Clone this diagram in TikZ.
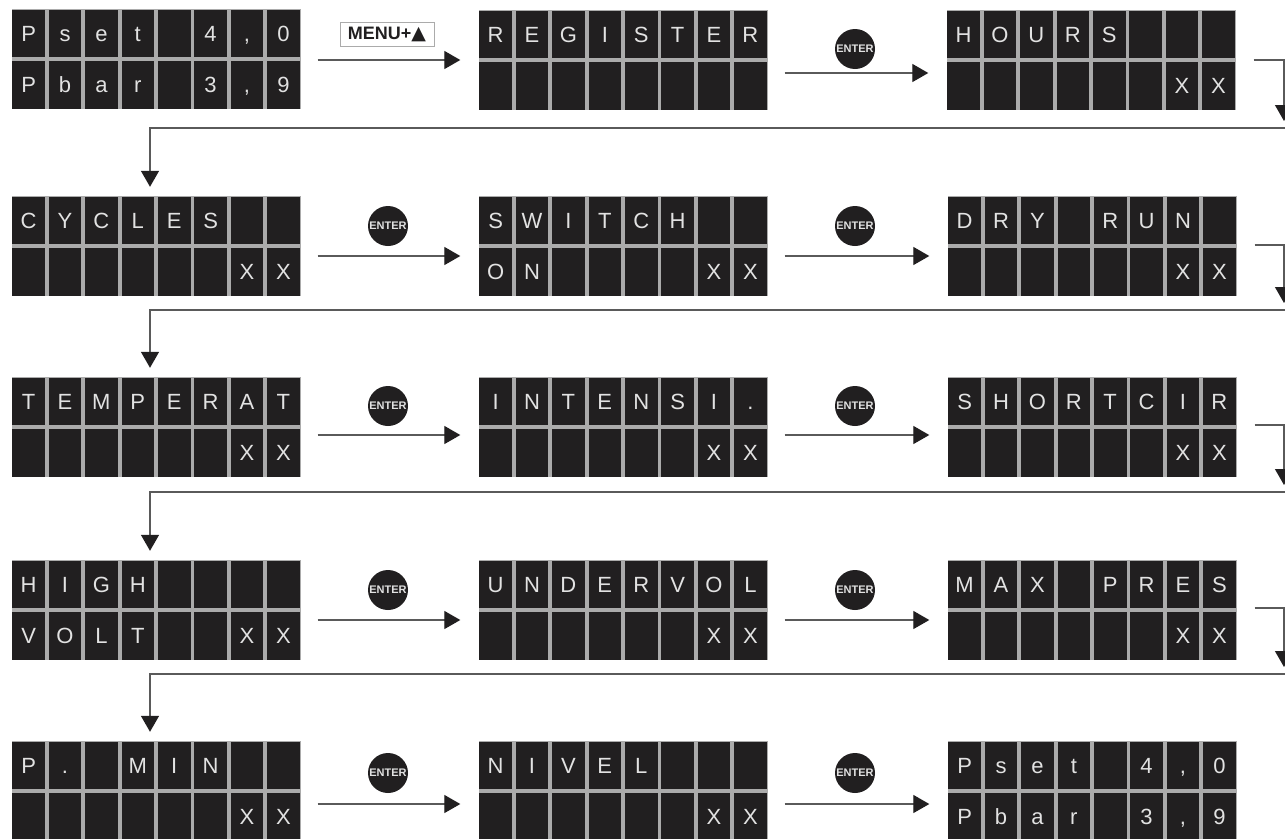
\documentclass[tikz,border=0pt]{standalone}
\usepackage{fontspec}
\setmainfont{Liberation Sans}
\newfontfamily\symfont{DejaVu Sans}
\usetikzlibrary{calc, arrows.meta}
\definecolor{cellFill}{HTML}{211F20}
\definecolor{cellEdge}{HTML}{ABABAB}
\definecolor{cellText}{HTML}{E2E2E2}
\definecolor{flowLine}{HTML}{5A5A5A}
\tikzset{
    panelbox/.style={fill=cellEdge, minimum width=289pt, minimum height=100pt, inner sep=0pt},
    cellbox/.style={fill=cellFill, minimum width=32.6pt, minimum height=47.5pt,
        inner sep=0pt, text=cellText, font=\fontsize{22}{22}\selectfont, text height=16pt, text depth=0pt},
    flow/.style={flowLine, line width=1.3pt},
    flowtip/.style={flow, -{Triangle[length=16pt,width=18pt,color=cellFill]}},
    enterkey/.style={circle, fill=cellFill, minimum size=40pt, inner sep=0pt, text=cellText,
        font=\fontsize{11}{11}\selectfont\bfseries},
    menukey/.style={draw=cellEdge, fill=white, minimum width=94pt, minimum height=24pt, inner sep=0pt,
        text=cellFill, font=\fontsize{18}{18}\selectfont\bfseries},
}
\newcommand{\lcdpanel}[5]{
    \node[panelbox] (#1) at (#2,#3) {};
    \foreach \ch [count=\i] in {#4}
        \node[cellbox] (#1-a\i) at ({#2+36.4*(\i-4.5)},{#3-25.75}) {\ch};
    \foreach \ch [count=\i] in {#5}
        \node[cellbox] (#1-b\i) at ({#2+36.4*(\i-4.5)},{#3+25.75}) {\ch};
}
\begin{document}
\begin{tikzpicture}[x=1pt, y=-1pt]
    \useasboundingbox (0,0) rectangle (1285,838);
    % first row
    \lcdpanel{psetA}{156}{59}{P,s,e,t,{},4,{,},0}{P,b,a,r,{},3,{,},9}
    \lcdpanel{register}{623}{60}{R,E,G,I,S,T,E,R}{{},{},{},{},{},{},{},{}}
    \lcdpanel{hours}{1091}{60}{H,O,U,R,S,{},{},{}}{{},{},{},{},{},{},X,X}
    % second row
    \lcdpanel{cycles}{156}{246}{C,Y,C,L,E,S,{},{}}{{},{},{},{},{},{},X,X}
    \lcdpanel{switch}{623}{246}{S,W,I,T,C,H,{},{}}{O,N,{},{},{},{},X,X}
    \lcdpanel{dryrun}{1092}{246}{D,R,Y,{},R,U,N,{}}{{},{},{},{},{},{},X,X}
    % third row
    \lcdpanel{temperat}{156}{427}{T,E,M,P,E,R,A,T}{{},{},{},{},{},{},X,X}
    \lcdpanel{intensi}{623}{427}{I,N,T,E,N,S,I,.}{{},{},{},{},{},{},X,X}
    \lcdpanel{shortcir}{1092}{427}{S,H,O,R,T,C,I,R}{{},{},{},{},{},{},X,X}
    % fourth row
    \lcdpanel{highvolt}{156}{610}{H,I,G,H,{},{},{},{}}{V,O,L,T,{},{},X,X}
    \lcdpanel{undervol}{623}{610}{U,N,D,E,R,V,O,L}{{},{},{},{},{},{},X,X}
    \lcdpanel{maxpres}{1092}{610}{M,A,X,{},P,R,E,S}{{},{},{},{},{},{},X,X}
    % last row
    \lcdpanel{pmin}{156}{791}{P,.,{},M,I,N,{},{}}{{},{},{},{},{},{},X,X}
    \lcdpanel{nivel}{623}{791}{N,I,V,E,L,{},{},{}}{{},{},{},{},{},{},X,X}
    \lcdpanel{psetB}{1092}{791}{P,s,e,t,{},4,{,},0}{P,b,a,r,{},3,{,},9}
    % arrows along the rows
    \foreach \from/\to/\dy in {psetA/register/1, register/hours/13, cycles/switch/10, switch/dryrun/10,
        temperat/intensi/8, intensi/shortcir/8, highvolt/undervol/10, undervol/maxpres/10,
        pmin/nivel/13, nivel/psetB/13}
        \draw[flowtip, shorten <=17pt, shorten >=18pt] ([yshift=-\dy pt]\from.east) coordinate (start) -- (start -| \to.west);
    % arrows from one row to the next
    \coordinate (turnA) at (1284,121);
    \coordinate (turnB) at (1284,303);
    \coordinate (turnC) at (1284,485);
    \coordinate (turnD) at (1284,667);
    \coordinate (wrapA) at (1285,128);
    \coordinate (wrapB) at (1285,310);
    \coordinate (wrapC) at (1285,492);
    \coordinate (wrapD) at (1285,674);
    \draw[flowtip, shorten <=18pt] (hours.east) -| (turnA);
    \draw[flowtip, shorten <=18pt] ([yshift=1pt]dryrun.east) -| (turnB);
    \draw[flowtip, shorten <=18pt] ([yshift=2pt]shortcir.east) -| (turnC);
    \draw[flowtip, shorten <=18pt] ([yshift=2pt]maxpres.east) -| (turnD);
    \draw[flowtip, shorten >=9pt] (wrapA) -| ([xshift=-6pt]cycles.north);
    \draw[flowtip, shorten >=9pt] (wrapB) -| ([xshift=-6pt]temperat.north);
    \draw[flowtip, shorten >=9pt] (wrapC) -| ([xshift=-6pt]highvolt.north);
    \draw[flowtip, shorten >=9pt] (wrapD) -| ([xshift=-6pt]pmin.north);
    % keys above the arrows
    \node[menukey] (menu) at (387,34) {MENU+{\symfont\fontsize{19}{18}\selectfont▲}};
    \foreach \name/\x/\y in {e1/855/49, e2/388/226, e3/855/226, e4/388/406, e5/855/406,
        e6/388/590, e7/855/590, e8/388/773, e9/855/773}
        \node[enterkey] (\name) at (\x,\y) {ENTER};
\end{tikzpicture}
\end{document}
